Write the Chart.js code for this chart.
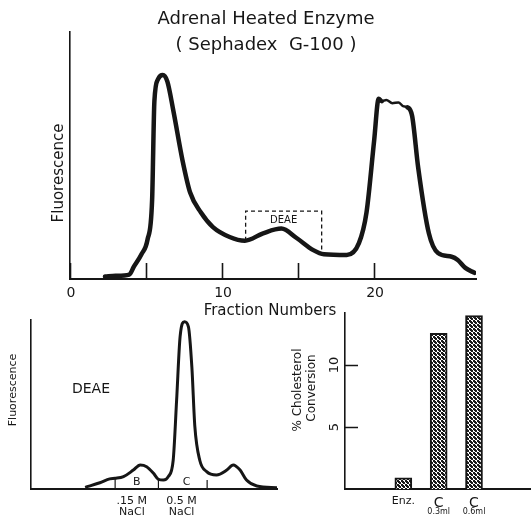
<!DOCTYPE html>
<html>
<head>
<meta charset="utf-8">
<script src="https://cdn.jsdelivr.net/npm/chart.js@4.4.1/dist/chart.umd.min.js"></script>
<style>
  html, body { margin: 0; padding: 0; background: #fff; }
  #wrap { position: relative; width: 531px; height: 521px; }
  #wrap canvas { position: absolute; }
  #gelChart { left: 0; top: 0; }
  #deaeChart { left: 0; top: 319px; }
  #convChart { left: 285px; top: 300px; }
</style>
</head>
<body>
<div id="wrap">
  <canvas id="gelChart" width="531" height="319"></canvas>
  <canvas id="deaeChart" width="285" height="202"></canvas>
  <canvas id="convChart" width="246" height="221"></canvas>
</div>
<script>
// Sephadex G-100 elution profile (fluorescence, arbitrary 0-100)
const gelFractions = [2.3, 3.0, 3.9, 4.2, 4.7, 5.1, 5.4, 5.55, 5.8, 6.1, 6.4, 6.8, 7.4, 7.9, 8.6, 9.4, 10.5, 11.5, 12.7, 13.9, 14.9, 16.0, 16.7, 18.2, 19.0, 19.5, 20.0, 20.3, 20.5, 20.8, 21.2, 21.6, 21.9, 22.2, 22.5, 22.9, 23.6, 24.2, 25.1, 25.5, 26.0, 26.6];
const gelFluor     = [1.0, 1.3, 1.8, 5.0, 10, 16, 32, 72, 81, 82.6, 80, 68, 48, 35, 27, 21, 17, 15.5, 18.5, 20.4, 16.6, 11.7, 10.0, 9.7, 14.5, 27, 56, 73, 72, 72.5, 71.2, 71.5, 70, 69.5, 66, 45, 18.5, 10.5, 9.0, 7.7, 4.5, 2.5];
const gelTickValues = [0, 5, 10, 15, 20];
const gelLabelValues = [0, 10, 20];
// dashed DEAE pool box: [from, to] fractions, top level, bottom levels at each side
const deaeBoxRange = [11.55, 16.55];
const deaeBoxTop = 27.5;
const deaeBoxBottoms = [15.5, 11.0];

// DEAE rechromatography profile
const deaeFractions = [11, 14, 16, 17.1, 18.8, 20.8, 22.2, 23.5, 24.9, 25.9, 26.9, 27.9, 28.9, 29.6, 30.3, 31.2, 32.0, 32.7, 33.3, 34.3, 35.7, 37.7, 39.8, 41.1, 42.5, 43.8, 45.9, 50];
const deaeFluor     = [1.0, 3.7, 6.0, 6.3, 7.3, 11.2, 14.2, 13.2, 9.3, 5.7, 5.3, 7.3, 17, 52.7, 90, 99, 96, 72, 37, 17, 10.3, 8.3, 11.2, 14.2, 11.2, 5.3, 1.8, 0.8];
const deaeCuts = [17.1, 25.9, 35.8];
const deaeCutTops = [6.3, 5.6, 5.3];
const deaePoolNames = ['B', 'C'];
const deaePoolPos = [21.5, 31.6];
const deaeSaltPos = [20.5, 30.6];
const deaeSaltLabels = [['.15 M', 'NaCl'], ['0.5 M', 'NaCl']];

// % cholesterol conversion
const convCategories = ['Enz.', 'C', 'C'];
const convSubLabels = ['', '0.3ml', '0.6ml'];
const convValues = [0.9, 12.55, 14.0];
const convTickValues = [5, 10];

const INK = '#161616';
const FONT = "'DejaVu Sans', sans-serif";
Chart.defaults.font.family = FONT;
Chart.defaults.color = INK;
Chart.defaults.animation = false;
Chart.defaults.plugins.legend.display = false;
Chart.defaults.plugins.tooltip.enabled = false;

// fixed axis sizes, so layout.padding places the plot area exactly
function fixSize(n) {
    return scale => { if (scale.isHorizontal()) scale.height = n; else scale.width = n; };
}

function text(ctx, str, x, y, size, rot) {
    ctx.save();
    ctx.fillStyle = INK;
    ctx.font = size + 'px ' + FONT;
    ctx.textAlign = 'center';
    ctx.textBaseline = 'middle';
    ctx.translate(x, y);
    if (rot) ctx.rotate(rot);
    ctx.fillText(str, 0, 0);
    ctx.restore();
}

// ---------- top: Sephadex G-100 ----------
const gelLabels = {
    id: 'gelLabels',
    afterDraw(chart) {
        const { ctx, scales: { x, y } } = chart;
        text(ctx, 'Adrenal Heated Enzyme', 266, 19, 18);
        text(ctx, '( Sephadex  G-100 )', 266, 45, 18);
        text(ctx, 'Fluorescence', 59, 173, 15, -Math.PI / 2);
        text(ctx, 'Fraction Numbers', 270, 311, 15);
        // numbers under the axis, placed by the x scale
        gelLabelValues.forEach(v => {
            text(ctx, String(v), x.getPixelForValue(v) + 1, y.bottom + 14, 14);
        });

        // dashed DEAE box
        const x1 = x.getPixelForValue(deaeBoxRange[0]);
        const x2 = x.getPixelForValue(deaeBoxRange[1]);
        const yt = y.getPixelForValue(deaeBoxTop);
        ctx.save();
        ctx.strokeStyle = INK;
        ctx.lineWidth = 1.3;
        ctx.setLineDash([4, 3]);
        ctx.beginPath();
        ctx.moveTo(x1, y.getPixelForValue(deaeBoxBottoms[0]));
        ctx.lineTo(x1, yt);
        ctx.lineTo(x2, yt);
        ctx.lineTo(x2, y.getPixelForValue(deaeBoxBottoms[1]));
        ctx.stroke();
        ctx.restore();
        text(ctx, 'DEAE', (x1 + x2) / 2, yt + 9, 10);
    }
};

new Chart(document.getElementById('gelChart'), {
    type: 'line',
    data: {
        datasets: [{
            data: gelFractions.map((f, i) => ({ x: f, y: gelFluor[i] })),
            borderColor: INK,
            borderWidth: 4.5,
            borderJoinStyle: 'round',
            borderCapStyle: 'round',
            pointRadius: 0,
            cubicInterpolationMode: 'monotone',
            segment: {
                borderWidth: c => (c.p0.parsed.x >= 20.5 && c.p1.parsed.x <= 22.2) ? 2.5 : 4.5
            }
        }]
    },
    options: {
        responsive: false,
        layout: { padding: { left: 70, top: 32, right: 55, bottom: 10 } },
        scales: {
            x: {
                type: 'linear', min: 0, max: 26.7,
                afterFit: fixSize(30),
                afterBuildTicks: s => { s.ticks = gelTickValues.map(v => ({ value: v })); },
                border: { color: INK, width: 2 },
                grid: { drawOnChartArea: false, drawTicks: true, tickLength: -16, tickWidth: 1.6, tickColor: INK },
                ticks: { display: false }
            },
            y: {
                type: 'linear', min: 0, max: 100,
                afterFit: fixSize(0),
                border: { color: INK, width: 1.6 },
                grid: { drawOnChartArea: false, drawTicks: false },
                ticks: { display: false }
            }
        }
    },
    plugins: [gelLabels]
});

// ---------- bottom left: DEAE ----------
const deaeLabels = {
    id: 'deaeLabels',
    afterDraw(chart) {
        const { ctx, scales: { x, y } } = chart;
        text(ctx, 'Fluorescence', 13, 71, 11, -Math.PI / 2);
        text(ctx, 'DEAE', 91, 70, 14);
        ctx.save();
        ctx.strokeStyle = INK;
        ctx.lineWidth = 1.2;
        deaeCuts.forEach((c, i) => {
            const px = x.getPixelForValue(c);
            ctx.beginPath();
            ctx.moveTo(px, y.getPixelForValue(0));
            ctx.lineTo(px, y.getPixelForValue(deaeCutTops[i]));
            ctx.stroke();
        });
        ctx.restore();
        deaePoolNames.forEach((n, i) => {
            text(ctx, n, x.getPixelForValue(deaePoolPos[i]), y.getPixelForValue(4.3), 11);
        });
    }
};

new Chart(document.getElementById('deaeChart'), {
    type: 'line',
    data: {
        datasets: [{
            data: deaeFractions.map((f, i) => ({ x: f, y: deaeFluor[i] })),
            borderColor: INK,
            borderWidth: 3,
            pointRadius: 0,
            cubicInterpolationMode: 'monotone'
        }]
    },
    options: {
        responsive: false,
        layout: { padding: { left: 31, top: 1, right: 8, bottom: 0 } },
        scales: {
            x: {
                type: 'linear', min: 0, max: 50,
                afterFit: fixSize(32),
                afterBuildTicks: s => { s.ticks = deaeSaltPos.map(v => ({ value: v })); },
                border: { color: INK, width: 2 },
                grid: { drawOnChartArea: false, drawTicks: false },
                ticks: { padding: 7, autoSkip: false, maxRotation: 0, font: { size: 11, lineHeight: 1 },
                         callback: (v, i) => deaeSaltLabels[i] }
            },
            y: {
                type: 'linear', min: 0, max: 100,
                afterFit: fixSize(0),
                border: { color: INK, width: 1.6 },
                grid: { drawOnChartArea: false, drawTicks: false },
                ticks: { display: false }
            }
        }
    },
    plugins: [deaeLabels]
});

// ---------- bottom right: % cholesterol conversion ----------
const tile = document.createElement('canvas');
tile.width = 4; tile.height = 4;
const tctx = tile.getContext('2d');
tctx.fillStyle = '#fff';
tctx.fillRect(0, 0, 4, 4);
tctx.fillStyle = '#1a1a1a';
tctx.fillRect(0, 0, 2, 2);
tctx.fillRect(2, 2, 2, 2);
tctx.fillRect(1, 1, 2, 2);
const hatch = tctx.createPattern(tile, 'repeat');

const convLabels = {
    id: 'convLabels',
    afterDraw(chart) {
        const { ctx, scales: { x, y } } = chart;
        text(ctx, '% Cholesterol', 13, 90, 12, -Math.PI / 2);
        text(ctx, 'Conversion', 27, 88, 12, -Math.PI / 2);
        y.ticks.forEach(t => {
            text(ctx, String(t.value), 50, y.getPixelForValue(t.value), 13, -Math.PI / 2);
        });
        convSubLabels.forEach((s, i) => {
            if (s) text(ctx, s, x.getPixelForValue(i + 1), 212, 8);
        });
    }
};

new Chart(document.getElementById('convChart'), {
    type: 'bar',
    data: {
        datasets: [{
            data: convValues.map((v, i) => ({ x: i + 1, y: v })),
            backgroundColor: hatch,
            borderColor: INK,
            borderWidth: 2,
            barThickness: 17
        }]
    },
    options: {
        responsive: false,
        layout: { padding: { left: 60, top: 13, right: 0, bottom: 0 } },
        scales: {
            x: {
                type: 'linear', min: 0.226, max: 3.736,
                afterFit: fixSize(32),
                afterBuildTicks: s => { s.ticks = convCategories.map((c, i) => ({ value: i + 1 })); },
                border: { color: INK, width: 2 },
                grid: { drawOnChartArea: false, drawTicks: false },
                ticks: { padding: 6, autoSkip: false, maxRotation: 0,
                         font: c => ({ size: c.index === 0 ? 11 : 14 }),
                         callback: (v, i) => convCategories[i] }
            },
            y: {
                type: 'linear', min: 0, max: 14.2,
                afterFit: fixSize(0),
                afterBuildTicks: s => { s.ticks = convTickValues.map(v => ({ value: v })); },
                border: { color: INK, width: 1.6 },
                grid: { drawOnChartArea: false, drawTicks: true, tickLength: -13, tickWidth: 1.5, tickColor: INK },
                ticks: { display: false }
            }
        }
    },
    plugins: [convLabels]
});
</script>
</body>
</html>
